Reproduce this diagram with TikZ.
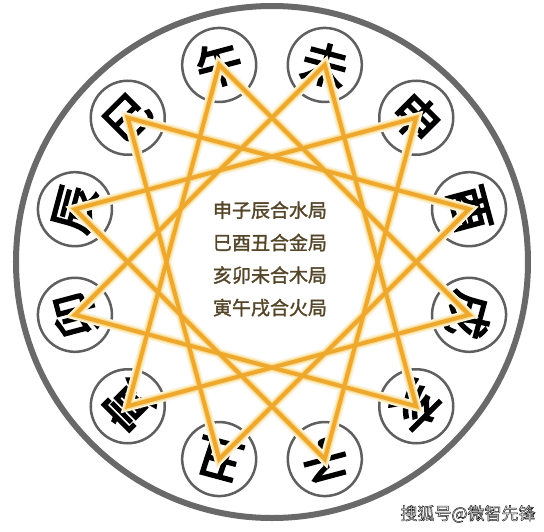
\documentclass[tikz,border=0pt]{standalone}
\usepackage{fontspec}
\newfontfamily\cjk{Noto Sans CJK SC}
\newfontfamily\cjkb[FakeBold=4]{Noto Sans CJK SC}
\newfontfamily\cjkm[FakeBold=1.6]{Noto Sans CJK SC}
\definecolor{gold}{RGB}{238,168,45}
\definecolor{glowa}{RGB}{253,242,212}
\definecolor{glowb}{RGB}{249,220,150}
\definecolor{ringc}{RGB}{105,105,105}
\definecolor{smallc}{RGB}{95,95,95}
\definecolor{txtc}{RGB}{85,70,42}
\tikzset{
  branch/.style={circle, draw=smallc, line width=2.5pt, fill=white, minimum size=74pt, inner sep=0pt, font=\cjkb\fontsize{46}{46}\selectfont, text=black},
  glowwide/.style={glowa, line width=10pt, line join=miter},
  glownarrow/.style={glowb, line width=6.5pt, line join=miter},
  goldline/.style={gold, line width=4pt, line join=miter},
  centertext/.style={align=center, text=txtc, font=\cjkm\fontsize{19}{32.5}\selectfont},
  wm/.style={font=\cjk\fontsize{17}{17}\selectfont}
}
\begin{document}
\begin{tikzpicture}[x=1pt,y=1pt]
\useasboundingbox (-272,-269) rectangle (272,262);
\fill[white] (-272,-269) rectangle (272,262);
\draw[ringc, line width=6pt] (0,0) circle (256pt);
\foreach \i/\c in {1/午,2/未,3/申,4/酉,5/戌,6/亥,7/子,8/丑,9/寅,10/卯,11/辰,12/巳} {
  \pgfmathsetmacro\ang{105-30*(\i-1)}
  \pgfmathsetmacro\rot{\ang-90}
  \node[branch, rotate=\rot] (b\i) at (\ang:204pt) {\c};
}
\foreach \p/\q/\r in {1/5/9,2/6/10,3/7/11,4/8/12} {
  \draw[glowwide] (b\p.center) -- (b\q.center) -- (b\r.center) -- cycle;
}
\foreach \p/\q/\r in {1/5/9,2/6/10,3/7/11,4/8/12} {
  \draw[glownarrow] (b\p.center) -- (b\q.center) -- (b\r.center) -- cycle;
}
\foreach \p/\q/\r in {1/5/9,2/6/10,3/7/11,4/8/12} {
  \draw[goldline] (b\p.center) -- (b\q.center) -- (b\r.center) -- cycle;
}
\node[centertext] (ctext) at (-2,3) {申子辰合水局\\巳酉丑合金局\\亥卯未合木局\\寅午戌合火局};
\node[wm] (wm) at (196,-252) {\color{white}\special{pdf:literal 1 g 2 Tr 0.45 w 0.1 G}搜狐号@微智先锋\special{pdf:literal 0 Tr}};
\end{tikzpicture}
\end{document}
